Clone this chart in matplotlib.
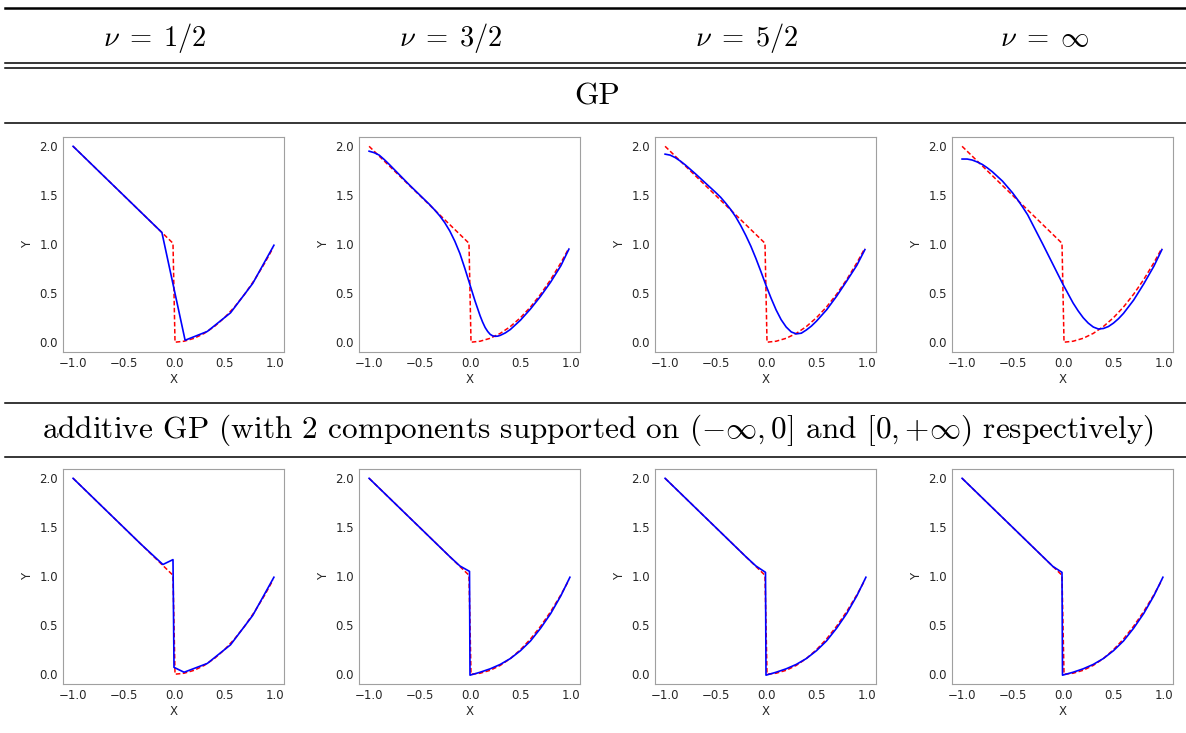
import matplotlib

# Use a non-interactive backend for saving files.
matplotlib.use('Agg')

import matplotlib.pyplot as plt
from matplotlib.lines import Line2D

plt.rcParams['mathtext.fontset'] = 'cm'

# --- data ---
col_titles = [r'$\nu \;=\; 1/2$', r'$\nu \;=\; 3/2$', r'$\nu \;=\; 5/2$', r'$\nu \;=\; \infty$']
row_titles = ['GP',
              r'additive GP (with 2 components supported on $(-\infty, 0]$ and $[0, {+}\infty)$ respectively)']

# true function (red dashed)
true_x = [-1.0, -0.5, -0.01, 0.01, 0.1, 0.2, 0.3, 0.4, 0.5, 0.6, 0.7, 0.8, 0.9, 0.98]
true_y = [2.0, 1.5, 1.01, 0.0, 0.01, 0.04, 0.09, 0.16, 0.25, 0.36, 0.49, 0.64, 0.81, 0.96]

# GP posterior means (blue), row 1
gp_half_x = [-1.0, -0.78, -0.56, -0.33, -0.12, 0.11, 0.33, 0.56, 0.78, 0.99]
gp_half_y = [2.0, 1.78, 1.56, 1.33, 1.12, 0.02, 0.11, 0.30, 0.60, 0.99]

gp_32_x = [-1.0, -0.95, -0.9, -0.85, -0.8, -0.7, -0.6, -0.5, -0.4, -0.35, -0.3, -0.25, -0.2,
           -0.15, -0.1, -0.05, 0.0, 0.05, 0.1, 0.125, 0.15, 0.175, 0.2, 0.225, 0.25, 0.275,
           0.3, 0.35, 0.4, 0.5, 0.6, 0.7, 0.8, 0.9, 0.98]
gp_32_y = [1.95, 1.935, 1.91, 1.865, 1.815, 1.71, 1.605, 1.505, 1.405, 1.35, 1.29, 1.22, 1.135,
           1.03, 0.905, 0.75, 0.585, 0.42, 0.27, 0.205, 0.15, 0.11, 0.08, 0.065, 0.06, 0.062,
           0.07, 0.095, 0.13, 0.225, 0.34, 0.47, 0.615, 0.78, 0.95]

gp_52_x = [-1.0, -0.95, -0.9, -0.85, -0.8, -0.7, -0.6, -0.5, -0.45, -0.4, -0.35, -0.3, -0.25,
           -0.2, -0.15, -0.1, -0.05, 0.0, 0.05, 0.1, 0.15, 0.2, 0.25, 0.3, 0.35, 0.4, 0.45,
           0.5, 0.6, 0.7, 0.8, 0.9, 0.98]
gp_52_y = [1.92, 1.91, 1.885, 1.85, 1.81, 1.72, 1.625, 1.53, 1.48, 1.42, 1.355, 1.28, 1.19,
           1.09, 0.98, 0.855, 0.72, 0.58, 0.45, 0.33, 0.23, 0.155, 0.105, 0.085, 0.092, 0.125, 0.165,
           0.215, 0.33, 0.47, 0.625, 0.785, 0.945]

gp_inf_x = [-1.0, -0.95, -0.9, -0.85, -0.8, -0.75, -0.7, -0.6, -0.5, -0.45, -0.4, -0.35, -0.3,
            -0.2, -0.1, 0.0, 0.1, 0.15, 0.2, 0.25, 0.3, 0.35, 0.4, 0.45, 0.5, 0.55, 0.6,
            0.7, 0.8, 0.9, 0.98]
gp_inf_y = [1.87, 1.87, 1.86, 1.84, 1.815, 1.78, 1.74, 1.645, 1.525, 1.455, 1.38, 1.30, 1.20,
            1.00, 0.795, 0.59, 0.40, 0.32, 0.25, 0.195, 0.155, 0.135, 0.14, 0.16, 0.195, 0.24, 0.295,
            0.43, 0.595, 0.775, 0.945]

# additive GP posterior means (blue), row 2
add_half_x = [-1.0, -0.78, -0.56, -0.33, -0.11, -0.01, 0.0, 0.10, 0.33, 0.56, 0.78, 0.99]
add_half_y = [2.0, 1.78, 1.56, 1.33, 1.12, 1.17, 0.07, 0.02, 0.11, 0.30, 0.60, 0.99]

add_32_x = [-1.0, -0.5, -0.2, -0.1, -0.005, 0.0, 0.1, 0.2, 0.3, 0.4, 0.5, 0.6, 0.7, 0.8, 0.9, 0.99]
add_32_y = [2.0, 1.5, 1.2, 1.105, 1.05, -0.01, 0.02, 0.055, 0.10, 0.16, 0.24, 0.34, 0.47, 0.62, 0.80, 0.99]

add_52_x = [-1.0, -0.5, -0.2, -0.1, -0.005, 0.0, 0.1, 0.2, 0.3, 0.4, 0.5, 0.6, 0.7, 0.8, 0.9, 0.99]
add_52_y = [2.0, 1.5, 1.2, 1.105, 1.04, -0.01, 0.02, 0.055, 0.10, 0.16, 0.24, 0.34, 0.47, 0.62, 0.80, 0.99]

add_inf_x = [-1.0, -0.5, -0.2, -0.1, -0.01, -0.005, 0.1, 0.2, 0.3, 0.4, 0.5, 0.6, 0.7, 0.8, 0.9, 0.99]
add_inf_y = [2.0, 1.5, 1.2, 1.1, 1.04, -0.01, 0.02, 0.055, 0.10, 0.16, 0.24, 0.34, 0.47, 0.62, 0.80, 0.99]

blue_curves = [
    [(gp_half_x, gp_half_y), (gp_32_x, gp_32_y), (gp_52_x, gp_52_y), (gp_inf_x, gp_inf_y)],
    [(add_half_x, add_half_y), (add_32_x, add_32_y), (add_52_x, add_52_y), (add_inf_x, add_inf_y)],
]

# --- layout in pixels ---
W, H = 1186, 733
fig = plt.figure(figsize=(W / 100, H / 100), dpi=100)

def px_rect(l, t, r, b):
    return [l / W, 1 - b / H, (r - l) / W, (b - t) / H]

col_left = [63, 359, 655, 952]
ax_w = 221
row_tops = [137, 469]
ax_h = 215

for r in range(2):
    for c in range(4):
        ax = fig.add_axes(px_rect(col_left[c], row_tops[r], col_left[c] + ax_w, row_tops[r] + ax_h))
        ax.plot(true_x, true_y, color='red', linestyle='--', dashes=(3, 1.6), lw=1.1)
        bx, by = blue_curves[r][c]
        ax.plot(bx, by, color='blue', lw=1.2)
        ax.set_xlim(-1.1, 1.09)
        ax.set_ylim(-0.1, 2.095)
        ax.set_xticks([-1.0, -0.5, 0.0, 0.5, 1.0])
        ax.set_yticks([0.0, 0.5, 1.0, 1.5, 2.0])
        ax.tick_params(length=0, pad=3.5, labelsize=8.5, labelcolor='#262626')
        for sp in ax.spines.values():
            sp.set_color('#a0a0a0')
            sp.set_linewidth(0.8)
        ax.set_xlabel('X', fontsize=8.5, color='#262626', labelpad=2)
        ax.set_ylabel('Y', fontsize=8.5, color='#262626', labelpad=4)

# --- table rules ---
def hline(y, lw):
    fig.add_artist(Line2D([5 / W, 1.0], [1 - y / H, 1 - y / H], transform=fig.transFigure,
                          color='black', lw=lw))

hline(8, 1.8)
hline(63, 1.1)
hline(68, 1.1)
hline(123, 1.1)
hline(403, 1.1)
hline(457, 1.1)

# --- table text ---
head_x = [155, 451, 747, 1044]
for x, t in zip(head_x, col_titles):
    fig.text(x / W, 1 - 38 / H, t, ha='center', va='center', fontsize=20.5)

fig.text(597 / W, 1 - 97 / H, row_titles[0], ha='center', va='center', fontsize=22.5, family='cmr10')
fig.text(598 / W, 1 - 430 / H, row_titles[1], ha='center', va='center', fontsize=22.5, family='cmr10')

fig.savefig('out.png', dpi=100)
